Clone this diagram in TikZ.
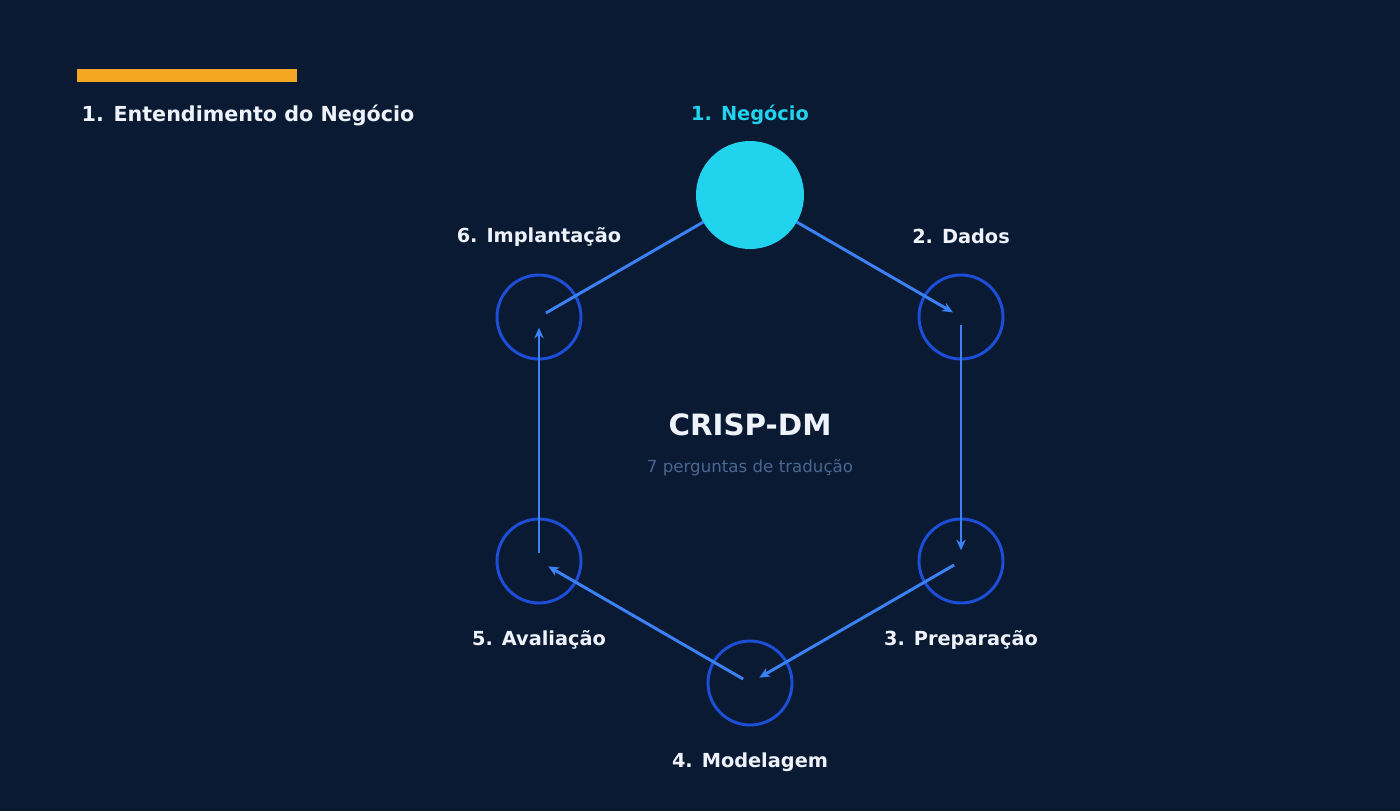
\documentclass[tikz,border=0pt]{standalone}
\usepackage{fontspec}
\setmainfont{DejaVu Sans}
\usetikzlibrary{arrows.meta}
\definecolor{bg}{HTML}{0B1A33}
\definecolor{cyanc}{HTML}{22D3EE}
\definecolor{ring}{HTML}{1D4ED8}
\definecolor{arr}{HTML}{3B82F6}
\definecolor{org}{HTML}{F5A623}
\definecolor{sub}{HTML}{4A6690}
\definecolor{txt}{HTML}{EEF2FA}
\begin{document}
\begin{tikzpicture}[x=0.75pt,y=-0.75pt,
  st/.style={circle,draw=ring,line width=2.2pt,minimum size=63pt,inner sep=0},
  lb/.style={text=txt,font=\bfseries\fontsize{14.5}{16}\selectfont},
  ar/.style={draw=arr,line width=2.2pt,-{Stealth[length=8pt,width=7pt]}}]
\fill[bg] (0,0) rectangle (1400,811);
\useasboundingbox (0,0) rectangle (1400,811);
\fill[org] (77,69) rectangle (297,82);
\node[lb,anchor=west,font=\bfseries\fontsize{15.5}{18}\selectfont] (title) at (77,115) {1. Entendimento do Negócio};
\node[circle,fill=cyanc,minimum size=81pt,inner sep=0] (n1) at (750,195) {};
\node[st] (n2) at (961,317) {};
\node[st] (n3) at (961,561) {};
\node[st] (n4) at (750,683) {};
\node[st] (n5) at (539,561) {};
\node[st] (n6) at (539,317) {};
\coordinate (c1) at (750,195);
\node[lb,text=cyanc] (l1) at (750,115) {1. Negócio};
\node[lb] (l2) at (961,236) {2. Dados};
\node[lb] (l3) at (961,640) {3. Preparação};
\node[lb] (l4) at (750,762) {4. Modelagem};
\node[lb] (l5) at (539,640) {5. Avaliação};
\node[lb] (l6) at (539,237) {6. Implantação};
\draw[ar,shorten <=40.5pt,shorten >=7pt] (n1.center) -- (n2.center);
\draw[ar,shorten <=6pt,shorten >=8pt] (n2.center) -- (n3.center);
\draw[ar,shorten <=6pt,shorten >=8pt] (n3.center) -- (n4.center);
\draw[ar,shorten <=6pt,shorten >=8pt] (n4.center) -- (n5.center);
\draw[ar,shorten <=6pt,shorten >=8pt] (n5.center) -- (n6.center);
\draw[ar,-,shorten <=6pt,shorten >=40.5pt] (n6.center) -- (n1.center);
\node[text=txt,font=\bfseries\fontsize{22}{26}\selectfont] (crisp) at (750,425) {CRISP-DM};
\node[text=sub,font=\fontsize{12.5}{15}\selectfont] (subt) at (750,468) {7 perguntas de tradução};
\end{tikzpicture}
\end{document}
